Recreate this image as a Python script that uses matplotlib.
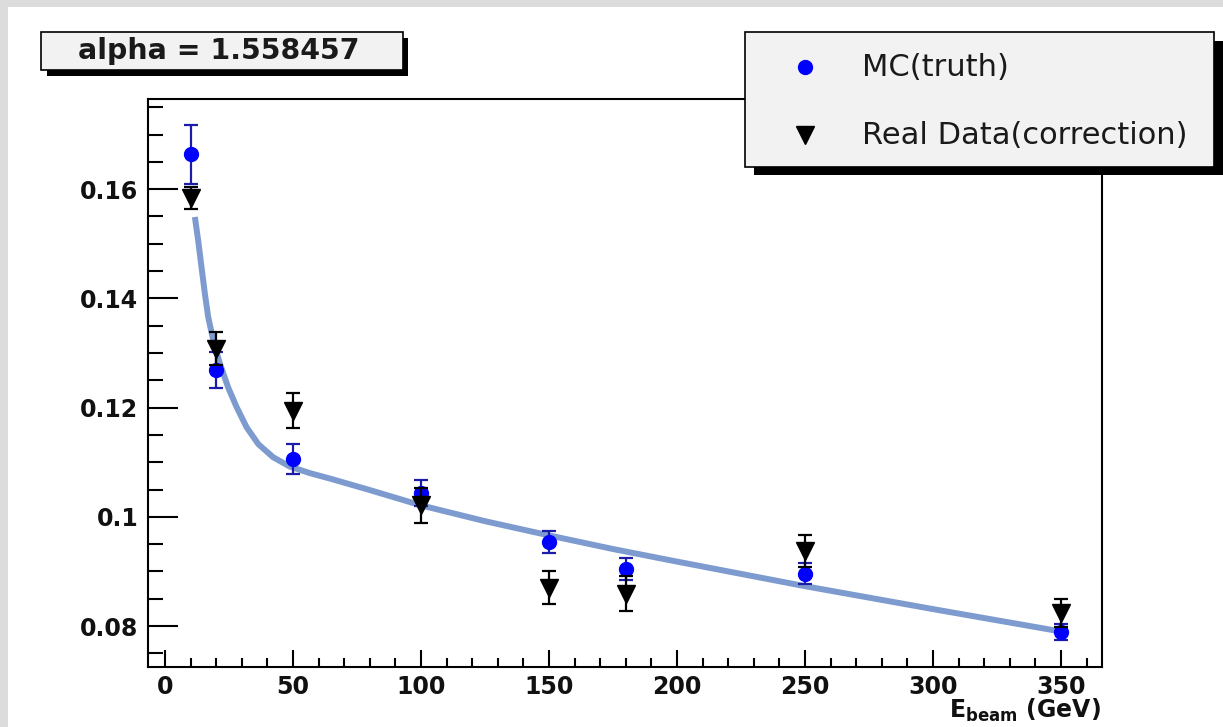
import matplotlib
matplotlib.use("Agg")
import matplotlib.pyplot as plt
from matplotlib.patches import Rectangle
from matplotlib.lines import Line2D
from matplotlib.ticker import MultipleLocator

# ---DATA---#
energy = [10, 20, 50, 100, 150, 180, 250, 350]
mc = [0.1664, 0.1268, 0.1106, 0.1043, 0.0954, 0.0905, 0.0896, 0.0789]
mc_err = [0.0054, 0.0033, 0.0028, 0.0024, 0.0020, 0.0020, 0.0019, 0.0014]
real = [0.1583, 0.1308, 0.1194, 0.1021, 0.0870, 0.0859, 0.0938, 0.0824]
real_err = [0.0020, 0.0030, 0.0032, 0.0032, 0.0030, 0.0032, 0.0029, 0.0026]

# fit curve
fit_e = [11.7, 13.0, 14.3, 15.6, 16.9, 18.9, 21.5, 24.7, 28.0, 31.9, 36.5,
         42.3, 48.8, 56.6, 64.5, 80, 100, 125, 150, 175, 200, 250, 300, 350]
fit_y = [0.1549, 0.1506, 0.1457, 0.1409, 0.1366, 0.1323, 0.1280, 0.1237,
         0.1201, 0.1164, 0.1133, 0.1109, 0.1092, 0.1080, 0.1070, 0.1049,
         0.1021, 0.0992, 0.0966, 0.0941, 0.0918, 0.0873, 0.0831, 0.0790]

xticks = [0, 50, 100, 150, 200, 250, 300, 350]
yticks = [0.08, 0.10, 0.12, 0.14, 0.16]
ytick_labels = ["0.08", "0.1", "0.12", "0.14", "0.16"]
legend_labels = ["MC(truth)", "Real Data(correction)"]
alpha_text = "alpha = 1.558457"

# ---FIGURE---#
plt.rcParams['font.family'] = ['DejaVu Sans']
plt.rcParams['mathtext.fontset'] = 'dejavusans'

W, H = 1223, 727
f = plt.figure(figsize=(W / 100, H / 100), dpi=100, facecolor='#dcdcdc')


def px(x, y):
    # pixel (from top-left) -> figure fraction
    return x / W, 1 - y / H


def box(x0, y0, x1, y1, **kw):
    fx0, fy1 = px(x0, y1)
    r = Rectangle((fx0, fy1), (x1 - x0) / W, (y1 - y0) / H,
                  transform=f.transFigure, **kw)
    f.add_artist(r)


# white canvas
box(8, 7, W + 2, H + 2, facecolor='white', edgecolor='none', zorder=-5)

# ---PLOT---#
panel = f.add_axes([148 / W, 1 - 667 / H, (1102 - 148) / W, (667 - 99) / H])
panel.set_facecolor('white')

panel.plot(fit_e, fit_y, color='#7d9bcf', lw=4.3, solid_capstyle='butt', zorder=2)
panel.errorbar(energy, mc, yerr=mc_err, fmt='o', color='#0000ff', ms=10,
               ecolor='#1c1ca8', elinewidth=1.6, capsize=5, capthick=1.6, zorder=3)
panel.errorbar(energy, real, yerr=real_err, fmt='v', color='black', ms=13,
               ecolor='black', elinewidth=1.6, capsize=5, capthick=1.6, zorder=4)

panel.set_xlim(-6.6, 366)
panel.set_ylim(0.0725, 0.1765)
panel.set_xticks(xticks)
panel.set_xticklabels([str(t) for t in xticks])
panel.xaxis.set_minor_locator(MultipleLocator(10))
panel.set_yticks(yticks)
panel.set_yticklabels(ytick_labels)
panel.yaxis.set_minor_locator(MultipleLocator(0.005))

panel.tick_params(axis='both', which='both', direction='in', width=1.5,
                  color='black', top=False, right=False)
panel.tick_params(axis='x', which='major', length=12.2, pad=6)
panel.tick_params(axis='x', which='minor', length=6.5)
panel.tick_params(axis='y', which='major', length=21.6, pad=7)
panel.tick_params(axis='y', which='minor', length=10.8)
for lab in panel.get_xticklabels() + panel.get_yticklabels():
    lab.set_fontsize(17)
    lab.set_fontweight('bold')
    lab.set_color('#111111')
for s in panel.spines.values():
    s.set_linewidth(1.5)

# x axis title
f.text(*px(1101, 718), r'$\mathbf{E}_{\mathbf{beam}}$ (GeV)', ha='right',
       va='baseline', fontsize=17, fontweight='bold', color='#111111')

# ---ALPHA BOX---#
box(47, 38, 408, 76, facecolor='black', edgecolor='none', zorder=5)
box(41, 32, 403, 70, facecolor='#f2f2f2', edgecolor='black', lw=1.2, zorder=6)
f.text(*px(219, 51), alpha_text, ha='center', va='center', fontsize=20.4,
       fontweight='bold', color='#1a1a1a', zorder=7)

# ---LEGEND---#
box(754, 41, 1223, 175, facecolor='black', edgecolor='none', zorder=5)
box(745, 32, 1214, 167, facecolor='#f2f2f2', edgecolor='black', lw=1.2, zorder=6)
for yy, mk, col, ms, lab in [(67, 'o', '#0000ff', 10, legend_labels[0]),
                             (135, 'v', 'black', 13, legend_labels[1])]:
    lx, ly = px(805, yy)
    f.add_artist(Line2D([lx], [ly], marker=mk, color=col, ms=ms, ls='none',
                        transform=f.transFigure, zorder=7))
    f.text(*px(862, yy), lab, ha='left', va='center', fontsize=22,
           color='#1a1a1a', zorder=7)

# ---SAVE---#
f.savefig('out.png', dpi=100, facecolor=f.get_facecolor())
